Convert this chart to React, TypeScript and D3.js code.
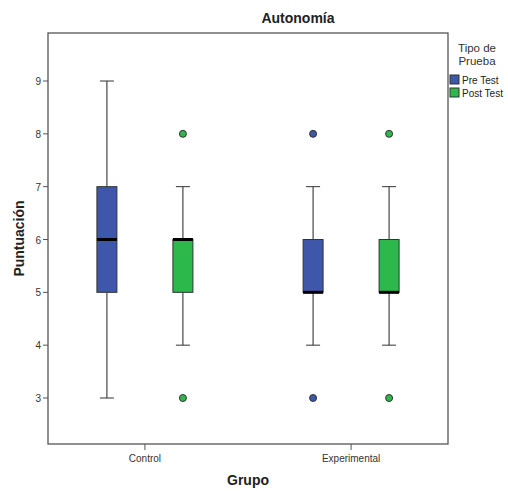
import React from "react";
import * as d3 from "d3";

// datos
const groups = ["Control", "Experimental"];
const series = ["Pre Test", "Post Test"];
const colors = ["#3F57AB", "#2DB84B"];
// [grupo][serie]
const mins = [[3, 4], [4, 4]];
const q1s = [[5, 5], [5, 5]];
const medians = [[6, 6], [5, 5]];
const q3s = [[7, 6], [6, 6]];
const maxs = [[9, 7], [7, 7]];
const outliers = [[[], [8, 3]], [[8, 3], [8, 3]]];
const yTicks = [3, 4, 5, 6, 7, 8, 9];

const W = 508, H = 491;
const left = 48, right = 448, top = 33, bottom = 444;

const App = () => {
    const x = d3.scalePoint().domain(groups).range([left, right]).padding(0.47);
    const sx = d3.scalePoint().domain(series).range([-38, 38]);
    const y = d3.scaleLinear().domain([3, 9]).range([398, 81]);
    const bw = 20;
    const cap = 14;
    const font = "Arial, 'Liberation Sans', sans-serif";

    return (
        <svg width={W} height={H} style={{ position: "absolute", left: 0, top: 0 }} fontFamily={font}>
            <rect x={0} y={0} width={W} height={H} fill="#fff" />
            <text x={298} y={23} textAnchor="middle" fontSize={14} fontWeight="bold" fill="#222">Autonomía</text>

            {/* marco */}
            <rect x={left} y={top} width={right - left} height={bottom - top} fill="none" stroke="#555" strokeWidth={1.3} />

            {/* eje y */}
            {yTicks.map(t => (
                <g key={t}>
                    <line x1={left - 5} x2={left} y1={y(t)} y2={y(t)} stroke="#555" />
                    <text x={left - 7} y={y(t) + 4} textAnchor="end" fontSize={10} fill="#333">{t}</text>
                </g>
            ))}
            <text transform={`translate(24, ${(top + bottom) / 2}) rotate(-90)`} textAnchor="middle" fontSize={14} fontWeight="bold" fill="#222">Puntuación</text>

            {/* eje x */}
            {groups.map(g => (
                <g key={g}>
                    <line x1={x(g)} x2={x(g)} y1={bottom} y2={bottom + 6} stroke="#555" />
                    <text x={x(g)} y={bottom + 18} textAnchor="middle" fontSize={10} fill="#333">{g}</text>
                </g>
            ))}
            <text x={(left + right) / 2} y={485} textAnchor="middle" fontSize={14} fontWeight="bold" fill="#222">Grupo</text>

            {/* cajas */}
            {groups.map((g, gi) => series.map((s, si) => {
                const cx = (x(g) as number) + (sx(s) as number);
                return (
                    <g key={g + s}>
                        <line x1={cx} x2={cx} y1={y(maxs[gi][si])} y2={y(q3s[gi][si])} stroke="#222" />
                        <line x1={cx} x2={cx} y1={y(q1s[gi][si])} y2={y(mins[gi][si])} stroke="#222" />
                        <line x1={cx - cap / 2} x2={cx + cap / 2} y1={y(maxs[gi][si])} y2={y(maxs[gi][si])} stroke="#333" />
                        <line x1={cx - cap / 2} x2={cx + cap / 2} y1={y(mins[gi][si])} y2={y(mins[gi][si])} stroke="#333" />
                        <rect x={cx - bw / 2} y={y(q3s[gi][si])} width={bw} height={y(q1s[gi][si]) - y(q3s[gi][si])}
                            fill={colors[si]} stroke="#333" strokeWidth={1} />
                        <line x1={cx - bw / 2} x2={cx + bw / 2} y1={y(medians[gi][si])} y2={y(medians[gi][si])} stroke="#000" strokeWidth={3} />
                        {outliers[gi][si].map((o, oi) => (
                            <circle key={oi} cx={cx} cy={y(o)} r={3.5} fill={colors[si]} stroke="#333" strokeWidth={1} />
                        ))}
                    </g>
                );
            }))}

            {/* leyenda */}
            <text x={477} y={52} textAnchor="middle" fontSize={11.5} fill="#333">Tipo de</text>
            <text x={477} y={65} textAnchor="middle" fontSize={11.5} fill="#333">Prueba</text>
            {series.map((s, i) => (
                <g key={s} transform={`translate(450, ${75 + i * 13})`}>
                    <rect x={0} y={0} width={9} height={9} fill={colors[i]} stroke="#333" />
                    <text x={12} y={8.5} fontSize={10} fill="#222">{s}</text>
                </g>
            ))}
        </svg>
    );
};

export default App;
